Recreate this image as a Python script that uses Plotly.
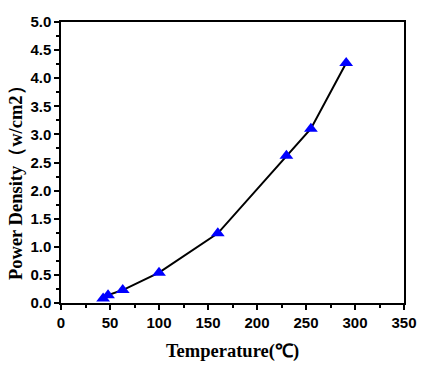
import plotly.graph_objects as go

temperature = [43, 48, 63, 100, 160, 230, 255, 291]
power_density = [0.08, 0.14, 0.23, 0.54, 1.24, 2.62, 3.10, 4.27]
x_ticks = [0, 50, 100, 150, 200, 250, 300, 350]
y_ticks = [0.0, 0.5, 1.0, 1.5, 2.0, 2.5, 3.0, 3.5, 4.0, 4.5, 5.0]

fig = go.Figure()
fig.add_trace(go.Scatter(
    x=temperature, y=power_density, mode="lines+markers",
    line=dict(color="black", width=2),
    marker=dict(symbol="triangle-up", size=12, color="#0000ff"),
))

tickfont = dict(family="Liberation Sans, Arial", size=15, color="black", weight=700)
titlefont = dict(family="Liberation Serif, Times New Roman", size=18.5, color="black", weight=700)

fig.update_layout(
    width=443, height=369,
    margin=dict(l=61, r=39, t=22, b=66),
    paper_bgcolor="white", plot_bgcolor="white",
    showlegend=False,
    xaxis=dict(
        range=[0, 350], tickvals=x_ticks, ticktext=[str(v) for v in x_ticks],
        ticks="outside", ticklen=5, tickwidth=1.5, tickcolor="black",
        minor=dict(ticks="outside", ticklen=3, tickcolor="black", dtick=25),
        showline=True, linecolor="black", linewidth=1.5, mirror=True,
        showgrid=False, zeroline=False, automargin=False,
        tickfont=tickfont,
        title=dict(text="Temperature(℃)", font=titlefont, standoff=14),
    ),
    yaxis=dict(
        range=[0, 5], tickvals=y_ticks, ticktext=[f"{v:.1f}" for v in y_ticks],
        ticks="outside", ticklen=5, tickwidth=1.5, tickcolor="black",
        minor=dict(ticks="outside", ticklen=3, tickcolor="black", dtick=0.25),
        showline=True, linecolor="black", linewidth=1.5, mirror=True,
        showgrid=False, zeroline=False, automargin=False,
        tickfont=tickfont,
    ),
    annotations=[dict(
        text="Power Density（w/cm2）", textangle=-90, showarrow=False,
        xref="paper", yref="paper", x=-0.131, y=0.445,
        xanchor="center", yanchor="middle", font=titlefont,
    )],
)

fig.write_html("out.html", post_script="document.body.style.margin='0';",
               config={"displayModeBar": False})
